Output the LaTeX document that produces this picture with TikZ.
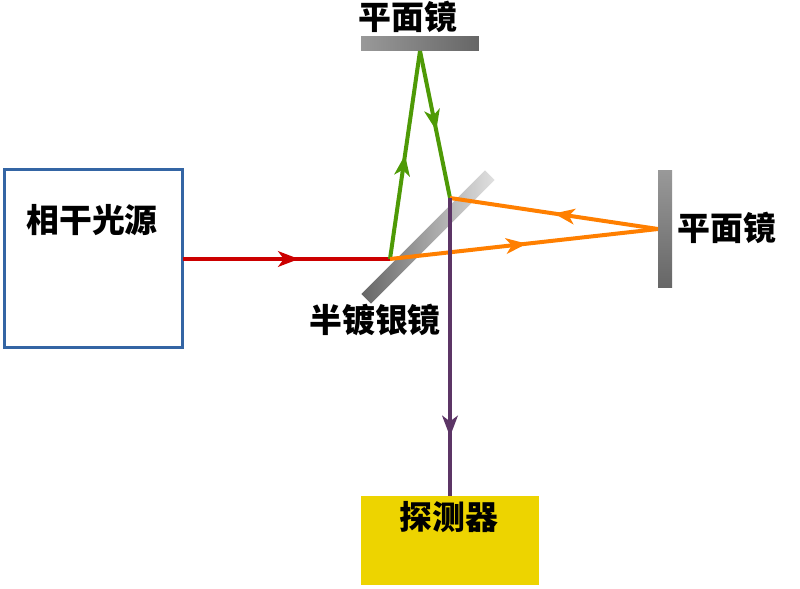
\documentclass[tikz,border=0pt]{standalone}
\usepackage{fontspec}
\setmainfont{Noto Sans CJK SC}
\usetikzlibrary{arrows.meta,decorations.markings}

\definecolor{srcblue}{HTML}{3465A4}
\definecolor{detyellow}{HTML}{EDD400}
\definecolor{rayred}{HTML}{CC0000}
\definecolor{raygreen}{HTML}{4E9A06}
\definecolor{rayorange}{HTML}{FF7F00}
\definecolor{raypurple}{HTML}{5C3566}

\tikzset{
  label text/.style={font=\fontsize{18.7}{20}\selectfont\bfseries, inner sep=0pt},
  mirror/.style={inner sep=0pt, outer sep=0pt},
  ray/.style={line width=0.08cm, postaction={decorate}, decoration={markings,
    mark=at position #1 with {\arrow[line width=0.03cm]{Stealth[length=0.42cm,width=0.32cm,inset=0.12cm]}}}},
}

\begin{document}
\begin{tikzpicture}[x=0.02cm,y=-0.02cm]
\useasboundingbox (0,0) rectangle (800,588);

\node[draw=srcblue, line width=0.07cm, minimum size=3.57cm, inner sep=0pt, outer sep=0pt] (source) at (93.5,258.5) {};
\node[fill=detyellow, minimum width=3.56cm, minimum height=1.78cm, inner sep=0pt, outer sep=0pt] (detector) at (450,540.5) {};

\node[mirror, minimum width=2.36cm, minimum height=0.3cm, left color=black!40, right color=black!60] (mirrortop) at (420,43.5) {};
\node[mirror, minimum width=0.28cm, minimum height=2.36cm, top color=black!40, bottom color=black!60] (mirrorright) at (665,229) {};
\node[mirror, minimum width=3.5cm, minimum height=0.27cm, rotate=45, left color=black!60, right color=black!12] (splitter) at (428,237) {};

\coordinate (hitin) at (390,259);
\coordinate (hitout) at (450,198);

\draw[ray=0.56, rayred] (source.east |- hitin) -- (hitin);
\draw[ray=0.5, raygreen] (hitin) -- (mirrortop.south);
\draw[ray=0.54, raygreen] (mirrortop.south) -- (hitout);
\draw[ray=0.51, rayorange] (hitin) -- (mirrorright.west);
\draw[ray=0.5, rayorange] (mirrorright.west) -- (hitout);
\draw[ray=0.8, raypurple] (hitout) -- (detector.north);

\node[label text] (sourcetext) at (92,220) {相干光源};
\node[label text] (detectortext) at (449,517) {探测器};
\node[label text] (mirrortoptext) at (408,16.5) {平面镜};
\node[label text] (mirrorrighttext) at (727,228) {平面镜};
\node[label text] (splittertext) at (375,320) {半镀银镜};
\end{tikzpicture}
\end{document}
